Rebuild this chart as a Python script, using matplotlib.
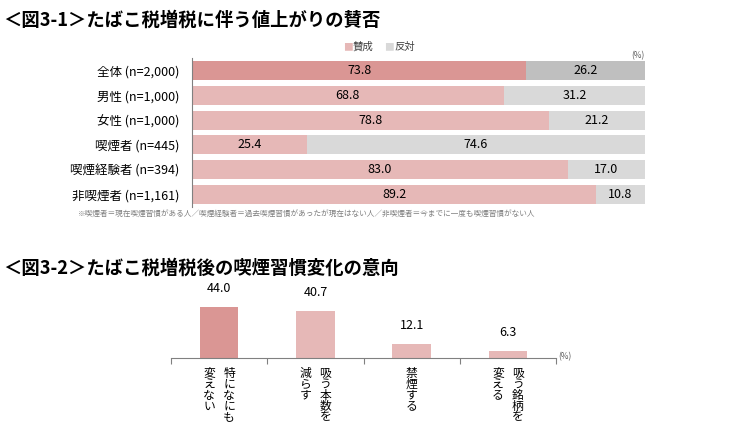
import numpy as np
import matplotlib.pyplot as plt

plt.rcParams['font.family'] = ['Noto Sans CJK JP', 'DejaVu Sans']

# --- Data: chart 3-1 ---
groups = ['全体 (n=2,000)', '男性 (n=1,000)', '女性 (n=1,000)',
          '喫煙者 (n=445)', '喫煙経験者 (n=394)', '非喫煙者 (n=1,161)']
agree = [73.8, 68.8, 78.8, 25.4, 83.0, 89.2]
oppose = [26.2, 31.2, 21.2, 74.6, 17.0, 10.8]
series_names = ['賛成', '反対']

# --- Data: chart 3-2 ---
intent_labels = [['特になにも', '変えない'], ['吸う本数を', '減らす'],
                 ['禁煙する'], ['吸う銘柄を', '変える']]
intent_values = [44.0, 40.7, 12.1, 6.3]

fig = plt.figure(figsize=(7.5, 4.36), dpi=100)
W, H = 750, 436

def px_axes(x0, y0, x1, y1):
    return fig.add_axes([x0 / W, 1 - y1 / H, (x1 - x0) / W, (y1 - y0) / H])

# Titles
fig.text(3 / W, 1 - 20 / H, '＜図3-1＞たばこ税増税に伴う値上がりの賛否',
         fontsize=13.2, fontweight='bold', va='center', ha='left')
fig.text(3 / W, 1 - 268 / H, '＜図3-2＞たばこ税増税後の喫煙習慣変化の意向',
         fontsize=13.2, fontweight='bold', va='center', ha='left')

# --- Top chart ---
ax1 = px_axes(192, 58, 645, 207)
y = np.arange(len(groups))
agree_cols = ['#DA9694' if i == 0 else '#E6B8B7' for i in range(len(groups))]
oppose_cols = ['#BFBFBF' if i == 0 else '#D9D9D9' for i in range(len(groups))]
ax1.barh(y, agree, height=0.76, color=agree_cols)
ax1.barh(y, oppose, left=agree, height=0.76, color=oppose_cols)
for i in range(len(groups)):
    ax1.text(agree[i] / 2, i, f'{agree[i]:.1f}', ha='center', va='center', fontsize=9)
    ax1.text(agree[i] + oppose[i] / 2, i, f'{oppose[i]:.1f}', ha='center', va='center', fontsize=9)
ax1.set_xlim(0, 100)
ax1.set_ylim(len(groups) - 0.5, -0.5)
ax1.set_yticks(y)
ax1.set_yticklabels(groups, fontsize=9)
ax1.tick_params(axis='y', length=0, pad=9)
ax1.set_xticks([])
for s in ['top', 'right', 'bottom']:
    ax1.spines[s].set_visible(False)
ax1.spines['left'].set_color('#808080')
ax1.spines['left'].set_linewidth(0.8)

# Legend
fig.text(343 / W, 1 - 47 / H, '■', color='#E6B8B7', fontsize=7, va='center')
fig.text(353 / W, 1 - 47 / H, series_names[0], fontsize=7.5, va='center', color='#404040')
fig.text(384 / W, 1 - 47 / H, '■', color='#D9D9D9', fontsize=7, va='center')
fig.text(394 / W, 1 - 47 / H, series_names[1], fontsize=7.5, va='center', color='#404040')
fig.text(645 / W, 1 - 56 / H, '(%)', fontsize=6, ha='right', va='center', color='#595959')

# Footnote
fig.text(78 / W, 1 - 215 / H,
         '※喫煙者＝現在喫煙習慣がある人／喫煙経験者＝過去喫煙習慣があったが現在はない人／非喫煙者＝今までに一度も喫煙習慣がない人',
         fontsize=5.5, color='#7F7F7F', va='center')

# --- Bottom chart ---
scale = 51 / 44.0  # px per percent
ax2 = px_axes(171, 358 - 60 * scale, 556, 358)
x = np.arange(len(intent_values))
bar_cols = ['#DA9694'] + ['#E6B8B7'] * (len(intent_values) - 1)
ax2.bar(x, intent_values, width=0.4, color=bar_cols)
for i, v in enumerate(intent_values):
    ax2.annotate(f'{v:.1f}', (i, v), xytext=(0, 18), textcoords='offset pixels',
                 ha='center', va='center', fontsize=9)
ax2.set_xlim(-0.5, len(intent_values) - 0.5)
ax2.set_ylim(0, 60)
ax2.set_yticks([])
ax2.set_xticks(np.arange(len(intent_values) + 1) - 0.5)
ax2.set_xticklabels([])
ax2.tick_params(axis='x', direction='out', length=4, color='#808080', width=0.8)
for s in ['top', 'right', 'left']:
    ax2.spines[s].set_visible(False)
ax2.spines['bottom'].set_color('#808080')
ax2.spines['bottom'].set_linewidth(0.8)
fig.text(558 / W, 1 - 357 / H, '(%)', fontsize=6, ha='left', va='center', color='#595959')

# Vertical category labels (columns read right to left), one glyph at a time
char_step = 11  # px between stacked characters
for i, cols in enumerate(intent_labels):
    n = len(cols)
    for j, col in enumerate(cols):
        off = (n - 1) * 10 - j * 20
        for k, ch in enumerate(col):
            ax2.annotate(ch, (i, 0), xytext=(off, -15 - k * char_step),
                         textcoords='offset pixels', ha='center', va='center',
                         fontsize=8.5, annotation_clip=False)

fig.savefig('out.png', dpi=100)
